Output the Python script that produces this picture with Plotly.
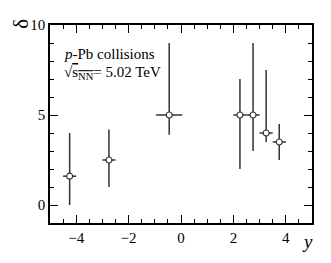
import plotly.graph_objects as go

x_vals = [-4.25, -2.75, -0.45, 2.25, 2.75, 3.25, 3.75]
x_err = [0.25, 0.25, 0.5, 0.25, 0.25, 0.25, 0.25]
delta_vals = [1.6, 2.5, 5.0, 5.0, 5.0, 4.0, 3.5]
err_up = [2.4, 1.7, 4.0, 2.0, 4.0, 3.5, 1.0]
err_down = [1.6, 1.5, 1.1, 3.0, 2.0, 0.5, 1.0]
x_ticks = [-4, -2, 0, 2, 4]
y_ticks = [0, 5, 10]

FONT = "Liberation Serif"
col = "#333333"

fig = go.Figure()
fig.add_trace(go.Scatter(
    x=x_vals, y=delta_vals, mode="markers",
    marker=dict(symbol="circle", size=6, color="white", line=dict(color=col, width=1.2)),
    error_y=dict(type="data", symmetric=False, array=err_up, arrayminus=err_down,
                 width=0, thickness=1.5, color=col),
    error_x=dict(type="data", array=x_err, width=0, thickness=1.5, color=col),
    showlegend=False,
))

axis_common = dict(
    showgrid=False, zeroline=False, showline=True, linecolor="black", linewidth=1.5,
    mirror="ticks", ticks="inside", tickcolor="black", tickwidth=1.2, ticklen=8,
    tickfont=dict(family=FONT, size=15, color="black"),
)
fig.update_xaxes(range=[-5, 5], tickvals=x_ticks, ticktext=["\u22124", "\u22122", "0", "2", "4"],
                 minor=dict(dtick=0.5, ticklen=4, tickcolor="black", tickwidth=1.2, ticks="inside"),
                 **axis_common)
fig.update_yaxes(range=[-1, 10], tickvals=y_ticks,
                 minor=dict(dtick=1, ticklen=4, tickcolor="black", tickwidth=1.2, ticks="inside"),
                 **axis_common)

fig.add_annotation(xref="paper", yref="paper", x=0.045, y=0.852, xanchor="left", yanchor="middle",
                   text="<i>p</i>-Pb collisions", showarrow=False,
                   font=dict(family=FONT, size=15, color="black"))
fig.add_annotation(xref="paper", yref="paper", x=0.045, y=0.758, xanchor="left", yanchor="middle",
                   text="\u221a<span style='text-decoration:overline'>s<sub>NN</sub></span>= 5.02 TeV",
                   showarrow=False, font=dict(family=FONT, size=15, color="black"))
fig.add_annotation(xref="paper", yref="paper", x=-0.112, y=1.005, xanchor="center", yanchor="middle",
                   text="\u03b4", textangle=-90, showarrow=False,
                   font=dict(family=FONT, size=21, color="black"))
fig.add_annotation(xref="paper", yref="paper", x=0.983, y=-0.157, xanchor="center", yanchor="bottom",
                   text="<i>y</i>", showarrow=False,
                   font=dict(family=FONT, size=19, color="black"))

# page body has an 8px default margin; size the figure so the page does not overflow the window
fig.update_layout(
    width=315, height=247,
    margin=dict(l=42, r=9, t=13, b=32),
    paper_bgcolor="white", plot_bgcolor="white",
)
fig.write_html("out.html")
